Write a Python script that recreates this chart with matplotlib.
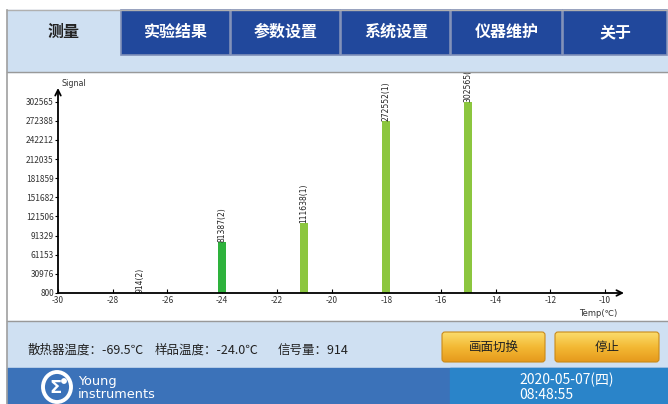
import numpy as np
import matplotlib as mpl
mpl.use('agg')
import matplotlib.pyplot as plt
from matplotlib.patches import Rectangle, FancyBboxPatch, Ellipse, Circle

plt.rcParams['font.family'] = ['Noto Sans CJK SC', 'DejaVu Sans']

# chart data
temps = [-27, -24, -21, -18, -15]
signals = [914, 81387, 111638, 272552, 302565]
groups = [2, 2, 1, 1, 1]
yticks = [800, 30976, 61153, 91329, 121506, 151682, 181859, 212035, 242212, 272388, 302565]
xticks = list(range(-30, -9, 2))

tabs = ['测量', '实验结果', '参数设置', '系统设置', '仪器维护', '关于']
tab_edges = [7, 121, 231, 341, 451, 563, 668]
status = ['散热器温度：-69.5℃', '样品温度：-24.0℃', '信号量：914']
status_x = [27, 155, 278]
buttons = ['画面切换', '停止']
date_str = '2020-05-07(四)'
time_str = '08:48:55'

W, H = 668, 404
fig = plt.figure(figsize=(W / 100, H / 100), dpi=100)
bg = fig.add_axes([0, 0, 1, 1])
bg.axis('off')

light = '#cfe0f2'
dark_tab = '#21489c'

# frame areas
bg.add_patch(Rectangle((0, 0), W, H, color='white'))
bg.add_patch(Rectangle((7, 55), W - 7, 17, color=light))
bg.add_patch(Rectangle((7, 321), W - 7, 47, color=light))
bg.add_patch(Rectangle((7, 368), W - 7, 36, color='#3b72b9'))
bg.add_patch(Rectangle((450, 368), W - 450, 36, color='#2a84c9'))
bg.plot([7, W], [10, 10], color='#b0b0b0', lw=1)
bg.plot([7, W], [72, 72], color='#999999', lw=1)
bg.plot([7, W], [321, 321], color='#999999', lw=1)
bg.plot([7, 7], [10, 404], color='#a0a0a0', lw=1.2)

# tabs
for i, name in enumerate(tabs):
    x0, x1 = tab_edges[i], tab_edges[i + 1]
    if i == 0:
        bg.add_patch(Rectangle((x0, 10), x1 - x0, 45, color=light))
        col = '#222222'
    else:
        bg.add_patch(Rectangle((x0, 10), x1 - x0 - 1, 45, facecolor=dark_tab,
                               edgecolor='#7f8fb8', lw=1.2))
        col = 'white'
    bg.text((x0 + x1) / 2, 32, name, color=col, fontsize=11.5, fontweight='bold',
            ha='center', va='center')

# status line
for s, x in zip(status, status_x):
    bg.text(x, 350, s, fontsize=9, color='#222222', ha='left', va='center')

# buttons with gradient
grad = np.linspace(0, 1, 64).reshape(-1, 1)
cmap = mpl.colors.LinearSegmentedColormap.from_list('btn', ['#fbdc6c', '#f3b934', '#e69a1c'])
for name, (x0, x1) in zip(buttons, [(442, 545), (555, 659)]):
    y0, y1 = 332, 362
    box = FancyBboxPatch((x0, y0), x1 - x0, y1 - y0, boxstyle='round,pad=0,rounding_size=3',
                         facecolor='none', edgecolor='#c98a1a', lw=0.8, zorder=3)
    bg.add_patch(box)
    im = bg.imshow(grad, extent=(x0, x1, y1, y0), aspect='auto', cmap=cmap, zorder=2)
    im.set_clip_path(box)
    bg.text((x0 + x1) / 2, 347, name, fontsize=9, color='#222222',
            ha='center', va='center', zorder=4)

# logo
bg.add_patch(Ellipse((57, 387), 28, 30, facecolor='none', edgecolor='white', lw=2.8))
bg.text(56, 388, 'Σ', color='white', fontsize=13, fontweight='bold',
        ha='center', va='center', family='DejaVu Sans')
bg.add_patch(Circle((64, 381), 2.2, color='white'))
bg.text(78, 382, 'Young', color='white', fontsize=9.3, ha='left', va='center', family='DejaVu Sans')
bg.text(78, 395, 'instruments', color='white', fontsize=9.3, ha='left', va='center', family='DejaVu Sans')

# date
bg.text(519, 380, date_str, color='white', fontsize=10, ha='left', va='center')
bg.text(519, 395, time_str, color='white', fontsize=10, ha='left', va='center')

bg.set_xlim(0, W)
bg.set_ylim(H, 0)

# chart axes
ax = fig.add_axes([58 / W, (H - 293) / H, (624 - 58) / W, (293 - 88) / H])
ax.set_facecolor('none')
px_per_x = (605 - 58) / 20.0
ax.set_xlim(-30, -30 + (624 - 58) / px_per_x)
yspan = (302565 - 800) / (293 - 101.7)
ax.set_ylim(800, 800 + (293 - 88) * yspan)
for s in ax.spines.values():
    s.set_visible(False)

clip = Rectangle((8, 73), W - 8, 247, transform=bg.transData)
colors = {1: '#8cc63f', 2: '#2eb23c'}
for t, v, g in zip(temps, signals, groups):
    ax.bar(t, v - 800, bottom=800, width=0.3, color=colors[g], zorder=2)
    txt = ax.text(t, v, '%d(%d)' % (v, g), rotation=90, ha='center', va='bottom',
                  fontsize=5.5, color='#222222', clip_on=True, family='DejaVu Sans', zorder=3)
    txt.set_clip_path(clip)

ax.annotate('', xy=(1, 0), xytext=(0, 0), xycoords='axes fraction',
            arrowprops=dict(arrowstyle='->', lw=1.3, color='black', shrinkA=0, shrinkB=0))
ax.annotate('', xy=(0, 1), xytext=(0, 0), xycoords='axes fraction',
            arrowprops=dict(arrowstyle='->', lw=1.3, color='black', shrinkA=0, shrinkB=0))

ax.set_xticks(xticks)
ax.set_xticklabels([str(x) for x in xticks])
ax.set_yticks(yticks)
ax.set_yticklabels([str(y) for y in yticks])
ax.tick_params(axis='x', direction='in', length=3, pad=2, labelsize=6, labelcolor='#333333')
ax.tick_params(axis='y', direction='out', length=2, pad=1, labelsize=6, labelcolor='#333333')

bg.text(62, 88, 'Signal', fontsize=5.8, color='#333333', ha='left', va='bottom', family='DejaVu Sans')
bg.text(598, 313, 'Temp(℃)', fontsize=6, color='#333333', ha='center', va='center', family='DejaVu Sans')

fig.savefig('out.png', dpi=100)
